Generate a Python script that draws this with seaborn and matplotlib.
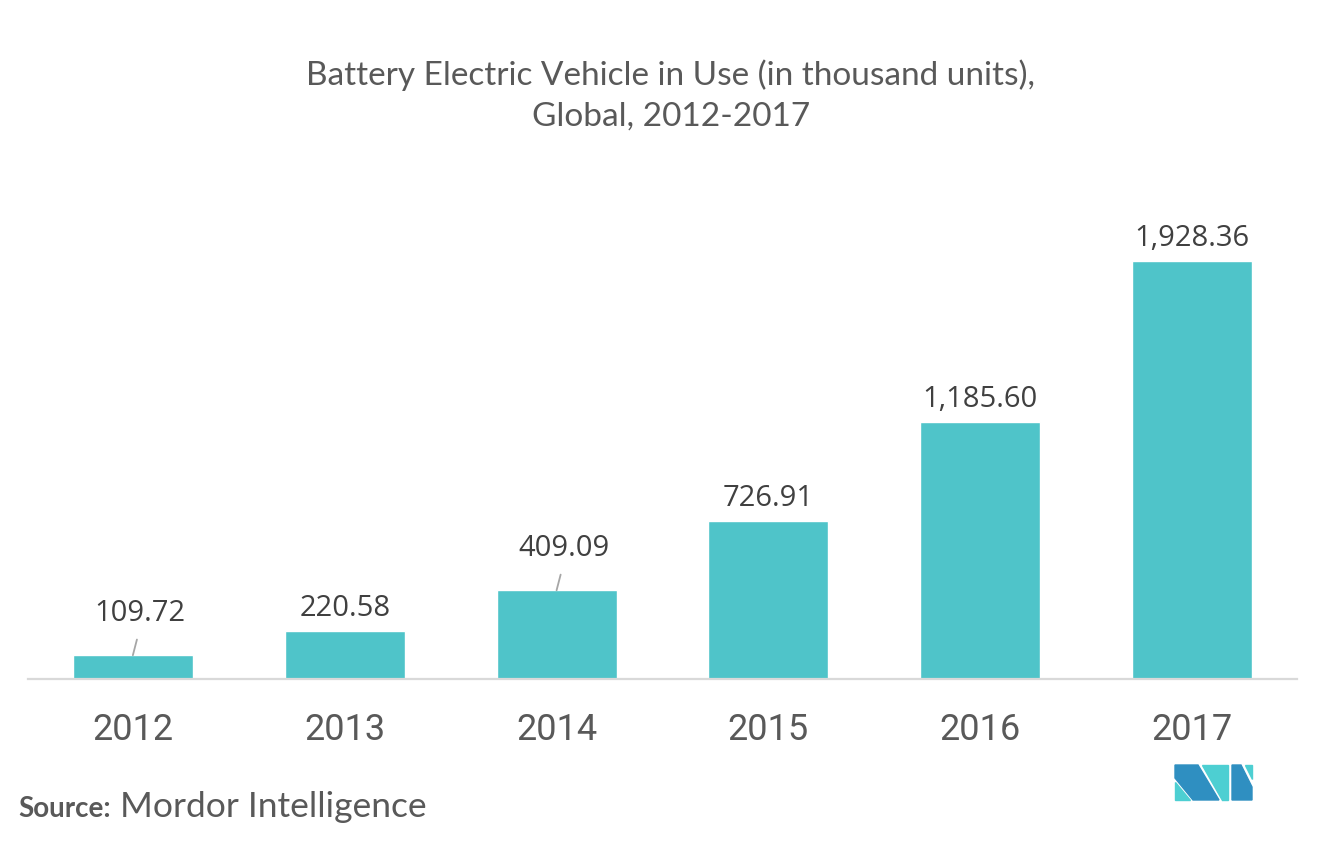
import matplotlib
matplotlib.use("Agg")
import matplotlib.pyplot as plt
import seaborn as sns
import pandas as pd
from matplotlib.patches import Polygon

# datos
anios = ["2012", "2013", "2014", "2015", "2016", "2017"]
valores = [109.72, 220.58, 409.09, 726.91, 1185.60, 1928.36]
etiquetas = ["109.72", "220.58", "409.09", "726.91", "1,185.60", "1,928.36"]
con_guia = ["2012", "2014"]

TITULO = "Battery Electric Vehicle in Use (in thousand units),\nGlobal, 2012-2017"
COLOR_BARRA = "#4fc4c9"
W, H = 1322, 850

sns.set_theme(style="white")
plt.rcParams["font.family"] = ["Lato", "DejaVu Sans"]

df = pd.DataFrame({"Año": anios, "Valor": valores})

fig = plt.figure(figsize=(W / 100, H / 100), dpi=100)
# ejes colocados en pixeles de la figura
izq, der, arriba, abajo = 28, 1297, 180, 679
ax = fig.add_axes([izq / W, 1 - abajo / H, (der - izq) / W, (abajo - arriba) / H])

sns.barplot(data=df, x="Año", y="Valor", color=COLOR_BARRA, width=0.566,
            saturation=1, ax=ax)

ax.set_xlim(-0.495, len(anios) - 0.505)
ax.set_ylim(0, 2301)
ax.set_xlabel("")
ax.set_ylabel("")
ax.set_yticks([])
for s in ["top", "left", "right"]:
    ax.spines[s].set_visible(False)
ax.spines["bottom"].set_color("#d9d9d9")
ax.spines["bottom"].set_linewidth(1.6)
ax.tick_params(axis="x", length=0, pad=24)
for t in ax.get_xticklabels():
    t.set_fontfamily("Roboto")
    t.set_fontsize(26)
    t.set_color("#595959")

# etiquetas de valor
for i, (a, v, lab) in enumerate(zip(anios, valores, etiquetas)):
    if a in con_guia:
        ax.annotate(lab, xy=(i, v), xytext=(7, 34), textcoords="offset pixels",
                    ha="center", va="baseline", fontsize=21, color="#404040",
                    fontfamily="Open Sans",
                    arrowprops=dict(arrowstyle="-", color="#a6a6a6", lw=1.3,
                                    relpos=(0.5, 0), shrinkA=6, shrinkB=0))
    else:
        ax.annotate(lab, xy=(i, v), xytext=(0, 15), textcoords="offset pixels",
                    ha="center", va="baseline", fontsize=21, color="#404040",
                    fontfamily="Open Sans")

# titulo
fig.text(671 / W, 1 - 59 / H, TITULO, ha="center", va="top", fontsize=24,
         color="#595959", linespacing=1.45)

# fuente
fig.text(18 / W, 1 - 817 / H, "Source:", ha="left", va="baseline",
         fontsize=20, fontweight="bold", color="#595959")
fig.text(120 / W, 1 - 817 / H, "Mordor Intelligence", ha="left",
         va="baseline", fontsize=25.5, color="#595959")

# logo
def px(pts):
    return [(x / W, 1 - y / H) for x, y in pts]

azul, turq = "#2f8fc1", "#4dcfd2"
formas = [
    ([(1175, 782), (1175, 800), (1190, 800)], turq),
    ([(1175, 765), (1198, 765), (1219, 800), (1193, 800), (1175, 778)], azul),
    ([(1202, 765), (1228, 765), (1228, 800), (1222, 800)], turq),
    ([(1232, 765), (1241, 765), (1252, 787), (1252, 800), (1232, 800)], azul),
    ([(1245, 765), (1252, 765), (1252, 779)], turq),
]
for pts, c in formas:
    fig.patches.append(Polygon(px(pts), closed=True, color=c,
                               transform=fig.transFigure, figure=fig))

fig.savefig("out.png", dpi=100, facecolor="white")
